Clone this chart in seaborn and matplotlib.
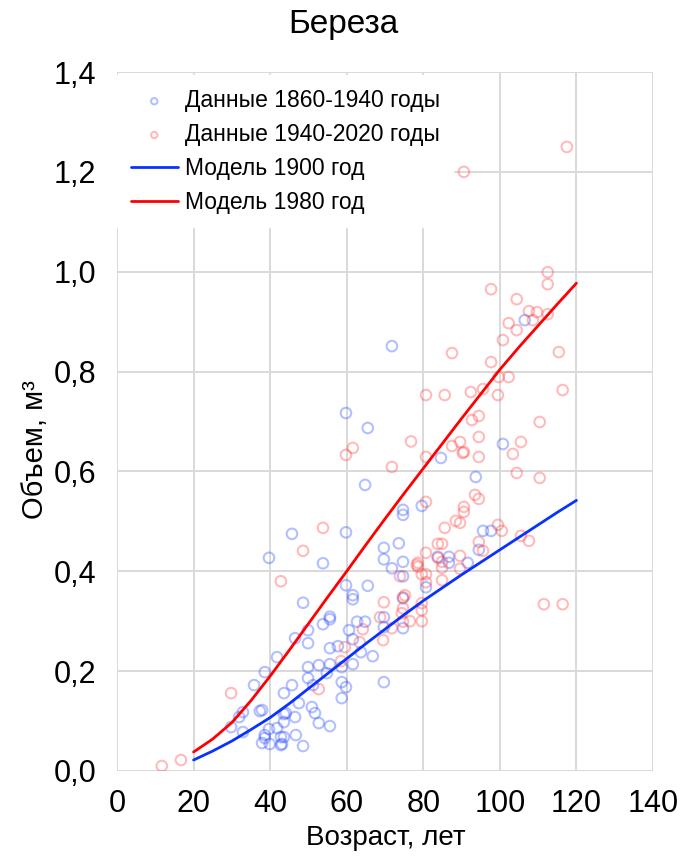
import matplotlib
matplotlib.use("Agg")
import matplotlib.pyplot as plt
import seaborn as sns
import pandas as pd

# Observed stem volumes, 1860-1940 (age in years, volume in m3)
old_age = [71.8, 59.8, 65.5, 64.8, 93.7, 100.8, 106.5, 84.6, 74.7, 74.7, 79.6, 45.7, 59.8,
           69.7, 73.6, 69.7, 53.8, 74.7, 71.8, 59.8, 65.5, 61.6, 61.6, 48.6, 55.6, 55.6,
           53.8, 62.7, 64.8, 60.6, 69.7, 69.7, 74.7, 46.5, 49.9, 49.9, 61.6, 55.6, 57.7,
           66.8, 63.7, 61.6, 58.7, 55.6, 52.7, 49.9, 54.8, 49.9, 51.2, 58.7, 59.8, 69.7,
           45.7, 43.6, 58.7, 47.5, 50.9, 51.7, 43.6, 46.5, 43.6, 52.7, 55.6, 46.7, 43.6,
           48.6, 43.1, 39.7, 41.8, 38.6, 35.8, 37.3, 37.9, 32.9, 31.9, 29.8, 32.9, 38.6,
           38.6, 41.8, 37.9, 39.9, 42.8, 42.8, 44.1, 95.6, 97.7, 94.5, 83.8, 86.7, 86.7,
           91.6, 74.7, 80.7, 74.7, 39.7]
old_vol = [0.851, 0.717, 0.687, 0.573, 0.589, 0.655, 0.903, 0.627, 0.523, 0.513, 0.531, 0.475, 0.478,
           0.447, 0.456, 0.424, 0.416, 0.419, 0.406, 0.372, 0.371, 0.352, 0.344, 0.337, 0.309, 0.304,
           0.294, 0.299, 0.299, 0.282, 0.308, 0.288, 0.286, 0.266, 0.282, 0.256, 0.264, 0.246, 0.250,
           0.230, 0.238, 0.214, 0.208, 0.214, 0.212, 0.208, 0.196, 0.186, 0.172, 0.178, 0.168, 0.178,
           0.172, 0.156, 0.146, 0.136, 0.128, 0.116, 0.114, 0.108, 0.098, 0.096, 0.090, 0.072, 0.068,
           0.050, 0.054, 0.427, 0.228, 0.198, 0.172, 0.120, 0.122, 0.118, 0.108, 0.088, 0.078, 0.072,
           0.066, 0.086, 0.056, 0.054, 0.052, 0.068, 0.116, 0.481, 0.481, 0.443, 0.429, 0.429, 0.417,
           0.417, 0.390, 0.368, 0.346, 0.084]

# Observed stem volumes, 1940-2020
new_age = [11.7, 16.7, 29.8, 42.8, 76.8, 61.6, 59.8, 71.8, 53.8, 48.6, 78.3, 69.7, 73.9,
           68.7, 64.2, 69.5, 71.8, 59.5, 63.4, 58.5, 52.7, 74.7, 74.7, 74.7, 80.7, 90.3,
           94.5, 103.4, 104.4, 80.7, 93.5, 94.5, 90.6, 90.6, 88.5, 89.6, 85.6, 99.5, 100.5,
           94.5, 95.6, 83.8, 84.9, 80.7, 89.6, 78.6, 78.6, 79.6, 80.7, 84.9, 83.8, 84.9,
           89.6, 84.9, 80.7, 75.2, 79.6, 79.6, 76.5, 79.6, 74.4, 97.7, 104.4, 102.3, 104.4,
           100.8, 87.5, 97.7, 99.7, 102.3, 80.7, 85.6, 92.4, 95.6, 99.5, 94.5, 92.7, 94.5,
           87.5, 89.6, 90.6, 112.5, 112.5, 107.6, 109.7, 112.5, 108.6, 115.4, 116.4, 110.4,
           105.5, 110.4, 105.5, 107.6, 111.5, 116.4, 90.6, 117.5]
new_vol = [0.010, 0.022, 0.156, 0.380, 0.660, 0.647, 0.633, 0.609, 0.487, 0.441, 0.413, 0.338, 0.390,
           0.308, 0.284, 0.262, 0.286, 0.248, 0.258, 0.220, 0.164, 0.348, 0.326, 0.299, 0.629, 0.637,
           0.629, 0.635, 0.597, 0.539, 0.553, 0.545, 0.529, 0.519, 0.501, 0.497, 0.487, 0.493, 0.481,
           0.459, 0.441, 0.455, 0.455, 0.437, 0.431, 0.417, 0.409, 0.394, 0.394, 0.419, 0.427, 0.407,
           0.405, 0.382, 0.378, 0.352, 0.336, 0.322, 0.300, 0.300, 0.316, 0.965, 0.945, 0.897, 0.883,
           0.863, 0.837, 0.819, 0.789, 0.789, 0.753, 0.753, 0.759, 0.765, 0.753, 0.711, 0.703, 0.669,
           0.651, 0.659, 0.639, 0.999, 0.975, 0.921, 0.919, 0.915, 0.903, 0.839, 0.763, 0.699,
           0.659, 0.587, 0.471, 0.461, 0.334, 0.334, 1.200, 1.250]

# Model growth curves, sampled every 5 years
model_age = [20, 25, 30, 35, 40, 45, 50, 55, 60, 65, 70, 75, 80, 85, 90, 95, 100,
             105, 110, 115, 120]
model_1900 = [0.022, 0.040, 0.060, 0.083, 0.107, 0.135, 0.165, 0.195, 0.225, 0.255, 0.284,
              0.313, 0.341, 0.367, 0.393, 0.418, 0.443, 0.468, 0.493, 0.518, 0.542]
model_1980 = [0.038, 0.064, 0.097, 0.141, 0.190, 0.242, 0.295, 0.348, 0.400, 0.453, 0.505,
              0.556, 0.606, 0.656, 0.706, 0.755, 0.804, 0.849, 0.892, 0.935, 0.977]

x_ticks = [0, 20, 40, 60, 80, 100, 120, 140]
y_ticks = [0.0, 0.2, 0.4, 0.6, 0.8, 1.0, 1.2, 1.4]
y_tick_labels = ["0,0", "0,2", "0,4", "0,6", "0,8", "1,0", "1,2", "1,4"]

sns.set_theme(style="white")
plt.rcParams["font.family"] = ["Liberation Sans", "DejaVu Sans"]
for key in ("text.color", "axes.labelcolor", "xtick.color", "ytick.color"):
    plt.rcParams[key] = "black"
NARROW = ["Liberation Sans Narrow", "Liberation Sans", "DejaVu Sans"]

df_old = pd.DataFrame({"age": old_age, "vol": old_vol})
df_new = pd.DataFrame({"age": new_age, "vol": new_vol})
df_model = pd.DataFrame({"age": model_age, "m1900": model_1900, "m1980": model_1980})

fig = plt.figure(figsize=(7.0, 8.59), dpi=100)
ax = fig.add_axes([117 / 700, 1 - 771 / 859, (653 - 117) / 700, (771 - 72) / 859])

sns.scatterplot(data=df_old, x="age", y="vol", ax=ax, marker="o", s=58,
                facecolors="none", edgecolor=(0.1, 0.25, 1.0, 0.33), linewidth=1.5,
                label="Данные 1860-1940 годы", zorder=3)
sns.scatterplot(data=df_new, x="age", y="vol", ax=ax, marker="o", s=58,
                facecolors="none", edgecolor=(1.0, 0.2, 0.2, 0.33), linewidth=1.5,
                label="Данные 1940-2020 годы", zorder=3)
sns.lineplot(data=df_model, x="age", y="m1900", ax=ax, color="#0a32ff", lw=2.0,
             label="Модель 1900 год", zorder=4)
sns.lineplot(data=df_model, x="age", y="m1980", ax=ax, color="#ff0000", lw=2.0,
             label="Модель 1980 год", zorder=4)

ax.set_xlim(0, 140)
ax.set_ylim(0, 1.4)
ax.set_xticks(x_ticks)
ax.set_xticklabels([str(t) for t in x_ticks], family=NARROW, fontsize=22)
ax.set_yticks(y_ticks)
ax.set_yticklabels(y_tick_labels, family=NARROW, fontsize=22)
ax.tick_params(axis="both", length=0, colors="black")
ax.tick_params(axis="y", pad=15)
ax.tick_params(axis="x", pad=13)
ax.grid(True, color="#d9d9d9", lw=1.4)
ax.set_axisbelow(True)
for sp in ax.spines.values():
    sp.set_visible(False)
ax.set_xlabel("")
ax.set_ylabel("")

leg = ax.legend(loc="upper left", bbox_to_anchor=(0.0, 0.995), borderaxespad=0,
                fontsize=16.5, frameon=True, framealpha=1.0, facecolor="white",
                edgecolor="white", fancybox=False, handlelength=2.05,
                handletextpad=0.3, markerscale=0.6, labelspacing=0.47,
                borderpad=0.6)
leg.set_zorder(5)

fig.text(343 / 700, 1 - 24 / 859, "Береза", ha="center", va="center",
         fontsize=24, family=NARROW)
fig.text(386 / 700, 1 - 838 / 859, "Возраст, лет", ha="center", va="center",
         fontsize=20, family=NARROW)
fig.text(35 / 700, 1 - 450 / 859, "Объем, м³", ha="center", va="center",
         rotation=90, fontsize=21, family=NARROW)

fig.savefig("out.png", dpi=100)
